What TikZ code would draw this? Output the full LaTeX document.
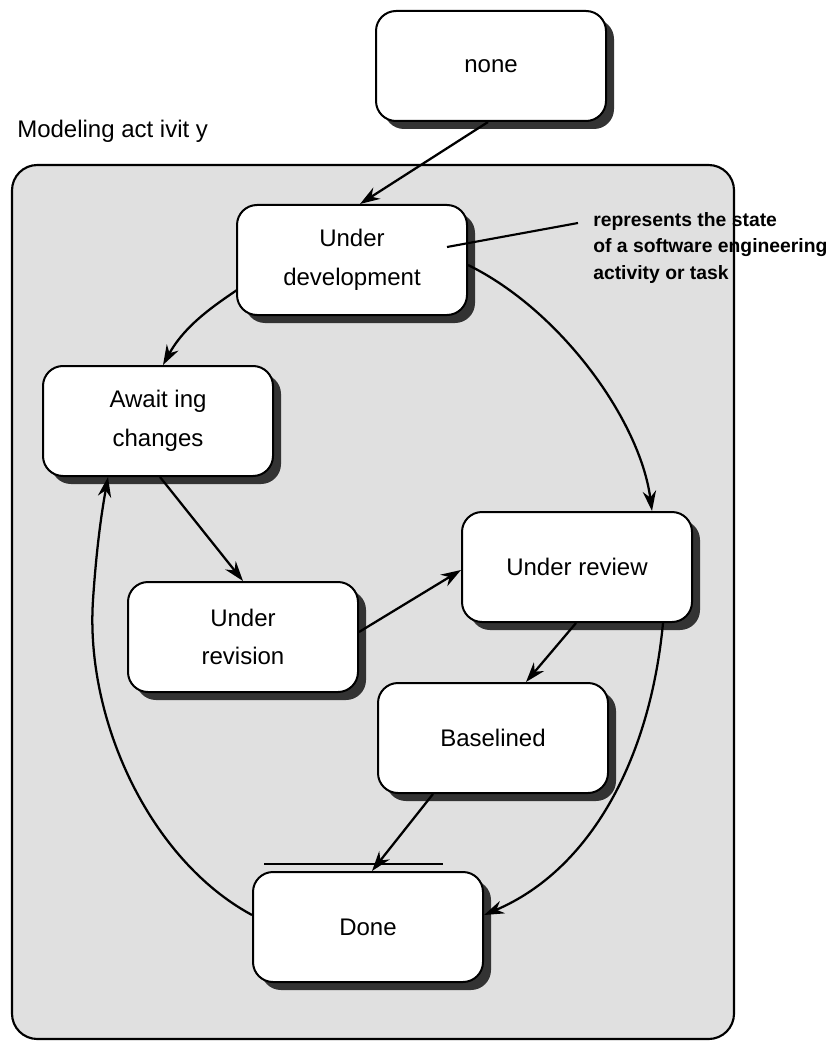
\documentclass[tikz,border=0pt]{standalone}
\usepackage{fontspec}
\setmainfont{Liberation Sans}
\usetikzlibrary{shadows,arrows.meta,calc}
\definecolor{panel}{HTML}{E0E0E0}
\definecolor{shade}{HTML}{333333}
\tikzset{
  state/.style={draw=black, line width=1.5pt, fill=white, rounded corners=15pt,
    minimum width=172.5pt, minimum height=82.5pt, align=center,
    font=\fontsize{18}{29}\selectfont,
    drop shadow={shadow xshift=6pt, shadow yshift=-6pt, fill=shade, opacity=1}},
  conn/.style={draw=black, line width=1.7pt, -{Stealth[length=15pt,width=10pt]}},
  plain/.style={draw=black, line width=1.6pt}
}
\begin{document}
\begin{tikzpicture}[x=0.75pt,y=-0.75pt]
\useasboundingbox (0,0) rectangle (832,1041);
% container
\draw[line width=1.6pt, fill=panel, rounded corners=19pt] (12,165) rectangle (734,1039);
\node[anchor=base west, inner sep=0, font=\fontsize{18}{22}\selectfont] (title) at (17,138) {Modeling act ivit y};
% states
\node[state] (none) at (491,66) {none};
\node[state] (UD) at (352,260) {Under\\development};
\node[state] (AC) at (158,421) {Await ing\\changes};
\node[state] (UR) at (577,567) {Under review};
\node[state] (URV) at (243,637) {Under\\revision};
\node[state] (B) at (493,738) {Baselined};
\node[state] (D) at (368,927) {Done};
% annotation
\node[anchor=north west, inner sep=0, align=left, font=\bfseries\fontsize{14.5}{20}\selectfont] (ann) at (593,212) {represents the state\\of a software engineering\\activity or task};
\coordinate (a1) at (447,247);
\coordinate (a2) at (578,223);
\draw[plain] (a1) -- (a2);
% bar above Done
\coordinate (b1) at ($(D.north west)+(12,-7)$);
\coordinate (b2) at ($(D.north east)+(-41,-7)$);
\draw[line width=1.2pt] (b1) -- (b2);
% connectors
\draw[conn] ($(none.south)+(-3,0)$) -- ($(UD.north)+(8,0)$);
\draw[conn] ($(UD.west)+(1,30)$) .. controls (215,305) and (185,325) .. ($(AC.north)+(5,0)$);
\draw[conn] ($(UD.east)+(0,5)$) .. controls (560,310) and (640,420) .. ($(UR.north)+(75,0)$);
\draw[conn] ($(AC.south)+(2,0)$) -- (URV.north);
\draw[conn] ($(URV.east)+(0,-5)$) -- ($(UR.west)+(0,3)$);
\draw[conn] ($(UR.south)+(-1,0)$) -- ($(B.north)+(33,0)$);
\draw[conn] ($(B.south)+(-60,0)$) -- ($(D.north)+(4,0)$);
\draw[conn] ($(UR.south)+(86,0)$) .. controls (650,760) and (590,870) .. ($(D.east)+(0,-12)$);
\draw[conn] ($(D.west)+(0,-12)$) .. controls (150,860) and (85,720) .. (93,600) .. controls (97,540) and (103,505) .. ($(AC.south)+(-50,0)$);
\end{tikzpicture}
\end{document}
